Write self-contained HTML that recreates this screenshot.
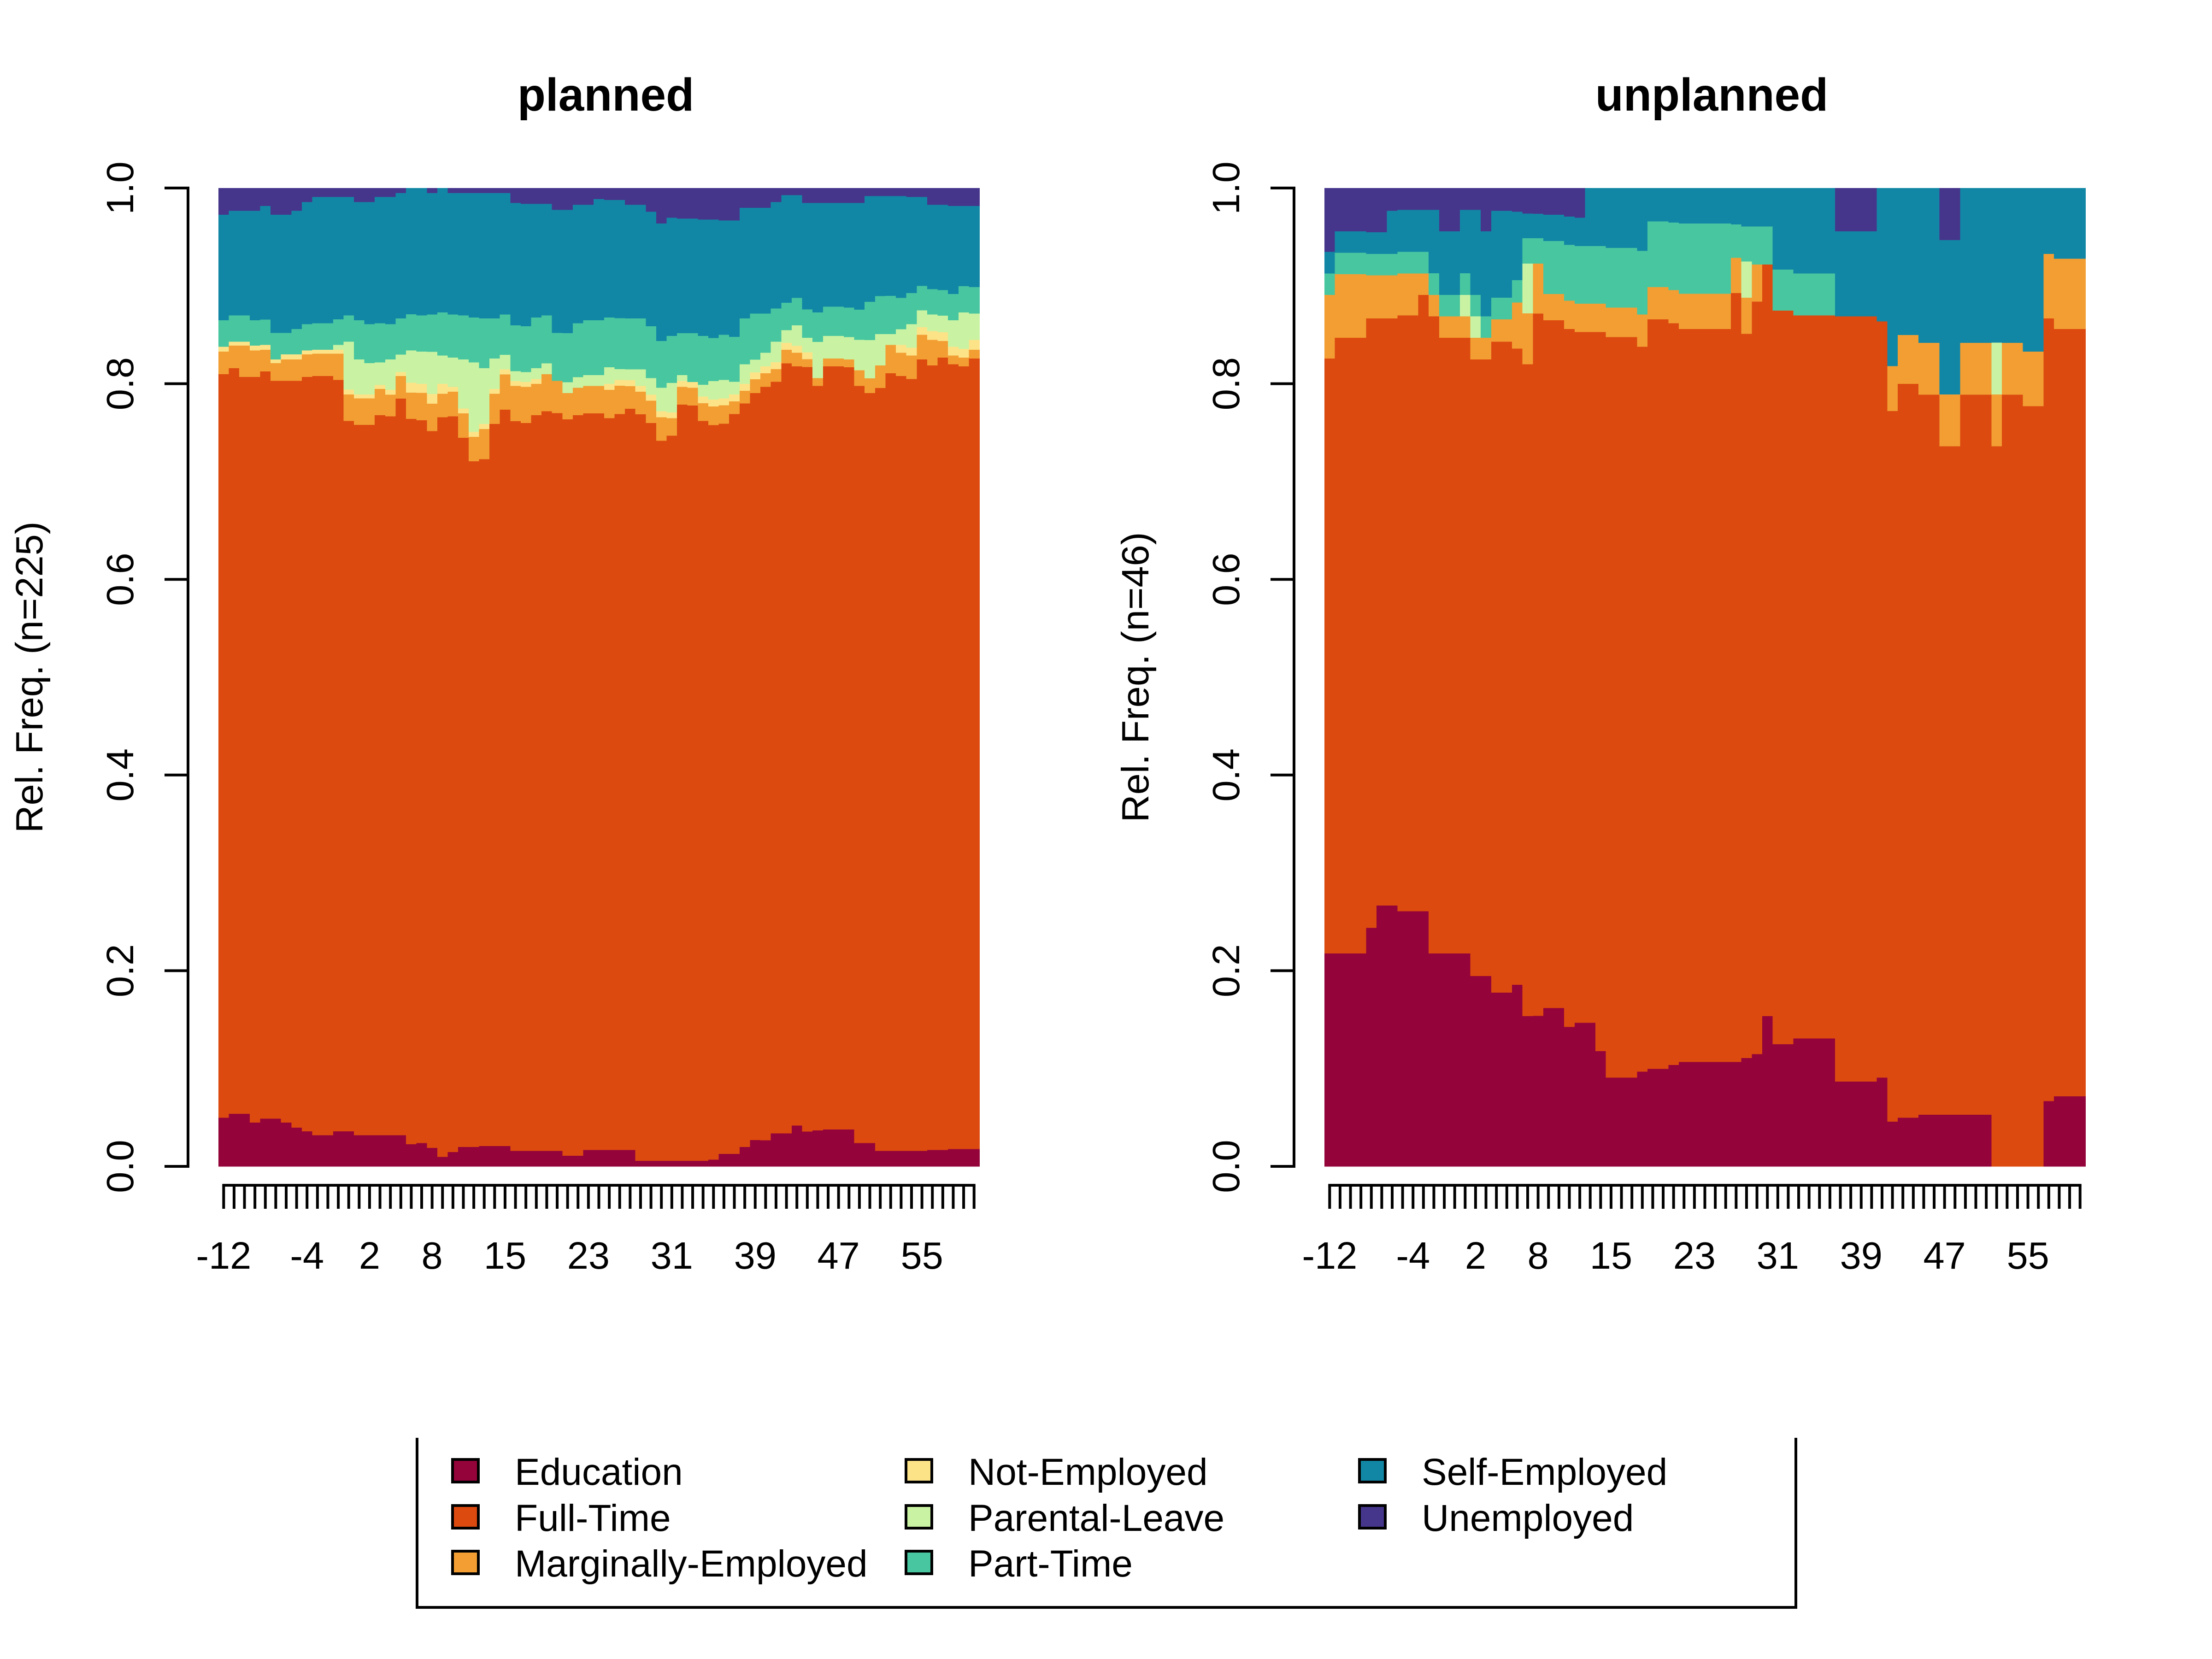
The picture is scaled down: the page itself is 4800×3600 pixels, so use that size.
<!DOCTYPE html>
<html><head><meta charset="utf-8"><title>State distribution plot</title>
<style>
html,body{margin:0;padding:0;background:#fff;}
svg{display:block;}
text{font-family:"Liberation Sans",Arial,sans-serif;fill:#000;}
</style></head>
<body>
<svg id="chart" width="4800" height="3600" viewBox="0 0 4800 3600" xmlns="http://www.w3.org/2000/svg">
<rect width="4800" height="3600" fill="#fff"/>
<g id="panels"></g>
<g id="legend"></g>
</svg>
<script>
// ---- data (percent of sequences per state, per time point) ----
const states = ["Education","Full-Time","Marginally-Employed","Not-Employed","Parental-Leave","Part-Time","Self-Employed","Unemployed"];
const stateColors = ["#940339","#DC4A0F","#F29E33","#FCE388","#C9F3A2","#48C6A0","#1287A5","#46368B"];
const xTickLabels = ["-12","-4","2","8","15","23","31","39","47","55"];
const xTickIndex = [0,8,14,20,27,35,43,51,59,67];
const yTickLabels = ["0.0","0.2","0.4","0.6","0.8","1.0"];
const yTickValues = [0,0.2,0.4,0.6,0.8,1.0];
const panelTitles = ["planned","unplanned"];
const panelN = [225,46];

const eduP = [5.0,5.4,5.4,4.5,4.9,4.9,4.5,4.0,3.6,3.2, 3.2,3.6,3.6,3.2,3.2,3.2,3.2,3.2,2.3,2.4, 1.9,1.0,1.5,2.0,2.0,2.1,2.1,2.1,1.6,1.6, 1.6,1.6,1.6,1.1,1.1,1.7,1.7,1.7,1.7,1.7, 0.6,0.6,0.6,0.6,0.6,0.6,0.6,0.7,1.3,1.3, 2.0,2.7,2.7,3.4,3.4,4.2,3.6,3.7,3.8,3.8, 3.8,2.4,2.4,1.6,1.6,1.6,1.6,1.6,1.7,1.7, 1.8,1.8,1.8];
const fullP = [76.0,76.3,75.4,76.3,76.3,75.5,75.9,76.4,77.2,77.6, 77.6,76.8,72.7,72.7,72.7,73.6,73.5,75.3,74.2,73.9, 73.2,75.6,75.2,72.5,70.1,70.2,73.8,75.2,74.6,74.4, 75.2,75.6,75.5,75.2,75.7,75.3,75.3,74.8,75.3,75.7, 76.3,75.4,73.6,74.1,77.3,77.2,75.7,75.1,74.7,75.7, 76.0,76.3,77.0,76.9,78.7,77.6,78.3,76.1,78.0,78.0, 77.9,77.4,76.6,77.9,79.5,79.2,78.9,81.0,80.2,80.9, 80.2,80.0,80.8];
const margP = [2.3,2.3,3.2,2.7,2.2,1.8,2.2,2.2,2.3,2.3, 2.3,2.7,2.7,2.7,2.7,2.7,2.2,2.3,2.7,2.8, 2.8,2.4,2.5,2.5,2.5,3.1,3.1,3.6,3.6,3.7, 3.2,3.8,3.3,2.7,2.8,2.8,2.8,2.9,2.9,2.3, 2.3,2.3,2.4,1.8,1.8,1.8,1.8,1.9,1.9,1.3, 1.3,1.4,1.4,1.3,1.4,1.4,0.8,0.8,0.8,0.8, 0.8,1.6,1.5,2.3,2.9,2.4,2.4,2.5,2.6,1.7, 0.9,0.9,0.9];
const notEmpP = [0.5,0.4,0.4,0.5,0.5,0.4,0.5,0.5,0.4,0.4, 0.4,0.4,0.5,0.4,0.4,0.4,0.5,0.4,1.0,0.9, 1.0,1.0,0.5,0.5,0.5,0.5,0.5,0.5,0.5,0.5, 0.5,0,0,0,0,0,0,0.6,0.6,0.6, 0.6,0.6,0.6,0.6,0.6,0.6,0.7,0.7,0.7,0.7, 0.7,0.7,0.7,0.7,0.7,0.7,0.7,0,0,0, 0,0,0,0,0,0.8,0.8,0.8,0.9,0.9, 0.9,0.9,1.0];
const parentalP = [0,0,0,0,0,0,0,0,0,0, 0,0.5,4.9,3.6,3.2,2.3,3.1,1.8,3.3,3.3, 4.3,2.9,3.0,5.0,7.1,5.7,3.1,1.5,1.0,1.0, 1.1,1.1,0,1.1,1.1,1.1,1.1,1.7,1.1,1.1, 1.7,1.7,2.4,3.0,0.6,0,1.2,1.9,1.9,1.3, 2.0,1.3,1.4,2.1,1.3,2.1,1.5,3.7,2.3,2.3, 2.3,3.1,3.9,3.2,1.1,1.6,2.4,1.7,1.7,1.7, 2.7,3.7,2.7];
const partP = [2.7,2.7,2.7,2.6,2.6,2.7,2.2,2.6,2.7,2.7, 2.7,2.6,2.7,4.0,4.0,4.0,3.6,3.7,3.7,3.7, 3.8,4.4,4.4,4.5,4.6,5.1,4.1,4.1,4.7,4.7, 5.2,4.9,4.9,5.0,5.5,5.6,5.6,5.1,5.2,5.2, 5.2,5.3,4.8,4.8,4.3,5.0,5.0,4.4,4.6,4.6, 4.7,4.7,4.0,3.4,2.8,2.8,2.9,3.0,3.0,3.0, 3.0,3.1,3.9,3.9,3.9,3.2,3.2,2.5,2.6,2.6, 2.7,2.7,2.7];
const selfP = [10.8,10.7,10.7,11.2,11.6,12.1,12.1,12.1,12.5,12.9, 12.9,12.5,12.1,12.1,12.5,12.9,13.0,12.8,12.9,13.0, 12.4,12.7,12.4,12.5,12.7,12.8,12.8,12.4,12.5,12.5, 11.6,11.4,12.6,12.6,12.1,11.8,12.4,12.0,12.1,11.6, 11.6,11.7,12.0,12.1,11.7,11.7,11.9,12.1,11.7,11.9, 11.3,10.8,10.8,10.9,11.0,10.5,10.9,11.2,10.6,10.6, 10.7,10.9,10.8,10.2,10.2,10.4,9.8,9.1,8.6,8.7, 9.0,8.2,8.3];
const unempP = [2.7,2.3,2.3,2.3,1.8,2.7,2.7,2.3,1.4,0.9, 0.9,0.9,0.9,1.4,1.4,0.9,0.9,0.5,0,0, 0.5,0,0.5,0.5,0.5,0.5,0.5,0.5,1.5,1.6, 1.6,1.6,2.2,2.2,1.7,1.7,1.1,1.2,1.2,1.7, 1.7,2.4,3.6,3.0,3.1,3.1,3.2,3.2,3.3,3.3, 2.0,2.0,2.0,1.4,0.7,0.7,1.5,1.5,1.5,1.5, 1.5,1.5,0.8,0.8,0.8,0.8,0.9,0.9,1.7,1.7, 1.8,1.8,1.8];

const eduU = [21.8,21.8,21.8,21.8,24.4,26.7,26.7,26.1,26.1,26.1, 21.8,21.8,21.8,21.8,19.5,19.5,17.8,17.8,18.6,15.4, 15.4,16.2,16.2,14.3,14.7,14.7,11.8,9.1,9.1,9.1, 9.7,10.0,10.0,10.4,10.7,10.7,10.7,10.7,10.7,10.7, 11.1,11.5,15.4,12.5,12.5,13.1,13.1,13.1,13.1,8.7, 8.7,8.7,8.7,9.1,4.6,5.0,5.0,5.3,5.3,5.3, 5.3,5.3,5.3,5.3,0,0,0,0,0,6.7, 7.2,7.2,7.2];
const fullU = [60.8,63.0,63.0,63.0,62.3,60.0,60.0,60.9,60.9,63.0, 65.2,63.0,63.0,63.0,63.1,63.1,66.6,66.6,65.1,66.7, 71.8,70.3,70.3,71.4,70.6,70.6,73.5,75.7,75.7,75.7, 74.1,76.7,76.7,75.8,75.0,75.0,75.0,75.0,75.0,78.6, 74.1,77.0,76.9,75.0,75.0,73.9,73.9,73.9,73.9,78.3, 78.3,78.3,78.3,77.3,72.7,75.0,75.0,73.6,73.6,68.4, 68.4,73.6,73.6,73.6,73.7,78.9,78.9,77.8,77.8,80.0, 78.5,78.5,78.5];
const margU = [6.5,6.5,6.5,6.5,4.4,4.4,4.4,4.3,4.3,2.2, 2.2,2.2,2.2,2.2,2.2,2.2,2.3,2.3,4.7,5.2, 5.1,2.7,2.7,2.9,2.9,2.9,2.9,3.0,3.0,3.0, 3.3,3.3,3.3,3.4,3.6,3.6,3.6,3.6,3.6,3.6, 3.7,3.8,0,0,0,0,0,0,0,0, 0,0,0,0,4.6,5.0,5.0,5.3,5.3,5.3, 5.3,5.3,5.3,5.3,5.3,5.3,5.3,5.6,5.6,6.6, 7.2,7.2,7.2];
const notEmpU = [0,0,0,0,0,0,0,0,0,0, 0,0,0,0,0,0,0,0,0,0, 0,0,0,0,0,0,0,0,0,0, 0,0,0,0,0,0,0,0,0,0, 0,0,0,0,0,0,0,0,0,0, 0,0,0,0,0,0,0,0,0,0, 0,0,0,0,0,0,0,0,0,0, 0,0,0];
const parentalU = [0,0,0,0,0,0,0,0,0,0, 0,0,0,2.2,2.2,0,0,0,0,5.1, 0,0,0,0,0,0,0,0,0,0, 0,0,0,0,0,0,0,0,0,0, 3.7,0,0,0,0,0,0,0,0,0, 0,0,0,0,0,0,0,0,0,0, 0,0,0,0,5.3,0,0,0,0,0, 0,0,0];
const partU = [2.2,2.2,2.2,2.2,2.2,2.2,2.2,2.2,2.2,2.2, 2.2,2.2,2.2,2.2,2.2,2.2,2.2,2.2,2.3,2.6, 2.6,5.4,5.4,5.7,5.9,5.9,5.9,6.1,6.1,6.1, 6.5,6.7,6.7,6.9,7.2,7.2,7.2,7.2,7.2,3.4, 3.6,3.9,3.9,4.2,4.2,4.3,4.3,4.3,4.3,0, 0,0,0,0,0,0,0,0,0,0, 0,0,0,0,0,0,0,0,0,0, 0,0,0];
const selfU = [2.2,2.2,2.2,2.2,2.2,2.2,4.4,4.3,4.3,4.3, 6.5,6.5,6.5,6.5,8.7,8.7,8.9,8.9,7.0,2.5, 2.5,2.7,2.7,2.9,2.9,5.9,5.9,6.1,6.1,6.1, 6.4,3.4,3.4,3.5,3.6,3.6,3.6,3.6,3.6,3.7, 3.9,3.9,3.9,8.3,8.3,8.7,8.7,8.7,8.7,8.7, 8.7,8.7,8.7,13.6,18.2,15.0,15.0,15.8,15.8,15.8, 15.8,15.8,15.8,15.8,15.8,15.8,15.8,16.7,16.7,6.7, 7.2,7.2,7.2];
const unempU = [6.5,4.4,4.4,4.4,4.5,4.5,2.3,2.2,2.2,2.2, 2.2,4.4,4.4,2.2,2.2,4.4,2.3,2.3,2.4,2.6, 2.6,2.7,2.7,2.9,3.0,0,0,0,0,0, 0,0,0,0,0,0,0,0,0,0, 0,0,0,0,0,0,0,0,0,4.4, 4.4,4.4,4.4,0,0,0,0,0,0,5.3, 5.3,0,0,0,0,0,0,0,0,0, 0,0,0];

const seriesPlanned = [eduP,fullP,margP,notEmpP,parentalP,partP,selfP,unempP];
const seriesUnplanned = [eduU,fullU,margU,notEmpU,parentalU,partU,selfU,unempU];

// ---- layout ----
const NS = "http://www.w3.org/2000/svg";
const plotTop = 408, plotBottom = 2531;
const panelOffsets = [0, 2400];
const plotLeft0 = 474, plotRight0 = 2125;

function mk(tag, attrs, parent){
  const e = document.createElementNS(NS, tag);
  for (const k in attrs) e.setAttribute(k, attrs[k]);
  parent.appendChild(e);
  return e;
}
function yScale(v){ return plotBottom - v*(plotBottom-plotTop); }

const panelsG = document.getElementById('panels');
[seriesPlanned, seriesUnplanned].forEach((series, p) => {
  const off = panelOffsets[p];
  const left = plotLeft0 + off, right = plotRight0 + off;
  const nCols = series[0].length;
  const colW = (right-left)/nCols;
  const xScale = i => left + i*colW;
  const g = mk('g', {}, panelsG);
  
  

  const barsG = mk('g', {'shape-rendering':'crispEdges'}, g);
  
  
  for (let i=0;i<nCols;i++){
    let total = 0;
    series.forEach(s => total += s[i]);
    let cum = 0;
    series.forEach((s, k) => {
      const v = s[i]/total;
      if (v <= 0) { return; }
      const y1 = yScale(cum + v), y0 = yScale(cum);
      const r = mk('rect', {x: xScale(i), y: y1, width: colW+0.8, height: (y0-y1)+0.6, fill: stateColors[k]}, barsG);
      
      
      cum += v;
    });
  }

  const axisX = plotLeft0 - 66 + off;
  const yAxis = mk('g', {stroke:'#000','stroke-width':6,fill:'none'}, g);
  
  
  mk('line', {x1: axisX, x2: axisX, y1: yScale(0)+3, y2: yScale(1)-3}, yAxis);
  yTickValues.forEach((v, t) => {
    mk('line', {x1: axisX, x2: axisX-51, y1: yScale(v), y2: yScale(v)}, yAxis);
    const tx = mk('text', {transform: 'translate(' + (axisX-119) + ',' + yScale(v) + ') rotate(-90)', 'text-anchor':'middle', 'font-size':83}, g);
    tx.textContent = yTickLabels[t];
    
    
  });

  const yt = mk('text', {transform: 'translate(' + (92+off) + ',' + ((plotTop+plotBottom)/2) + ') rotate(-90)', 'text-anchor':'middle', 'font-size':83}, g);
  yt.textContent = 'Rel. Freq. (n=' + panelN[p] + ')';
  
  

  const xAxis = mk('g', {stroke:'#000','stroke-width':6,fill:'none'}, g);
  
  
  const axY = 2572;
  mk('line', {x1: xScale(0.5)-3, x2: xScale(nCols-0.5)+3, y1: axY, y2: axY}, xAxis);
  for (let i=0;i<nCols;i++){
    mk('line', {x1: xScale(i+0.5), x2: xScale(i+0.5), y1: axY, y2: axY+51}, xAxis);
  }
  xTickIndex.forEach((ci, t) => {
    const tx = mk('text', {x: xScale(ci+0.5), y: 2753, 'text-anchor':'middle', 'font-size':83}, g);
    tx.textContent = xTickLabels[t];
    
    
  });

  const tt = mk('text', {x: (left+right)/2 + 15, y: 240, 'text-anchor':'middle', 'font-size':100, 'font-weight':'bold'}, g);
  tt.textContent = panelTitles[p];
  
  
});

// ---- legend ----
const lg = document.getElementById('legend');
const lbox = mk('g', {stroke:'#000','stroke-width':6,fill:'none'}, lg);


mk('polyline', {points: '905,3120 905,3488 3897,3488 3897,3120'}, lbox);
const legColX = [979, 1963, 2947];
const legRowY = [3164, 3264, 3363];
states.forEach((s, k) => {
  const c = Math.floor(k/3), r = k%3;
  const eg = mk('g', {}, lg);
  
  
  mk('rect', {x: legColX[c]+3, y: legRowY[r]+3, width: 56, height: 49, fill: stateColors[k], stroke:'#000', 'stroke-width':6}, eg);
  const t = mk('text', {x: legColX[c]+138, y: legRowY[r]+58, 'font-size':82}, eg);
  t.textContent = s;
});
</script>
</body></html>
